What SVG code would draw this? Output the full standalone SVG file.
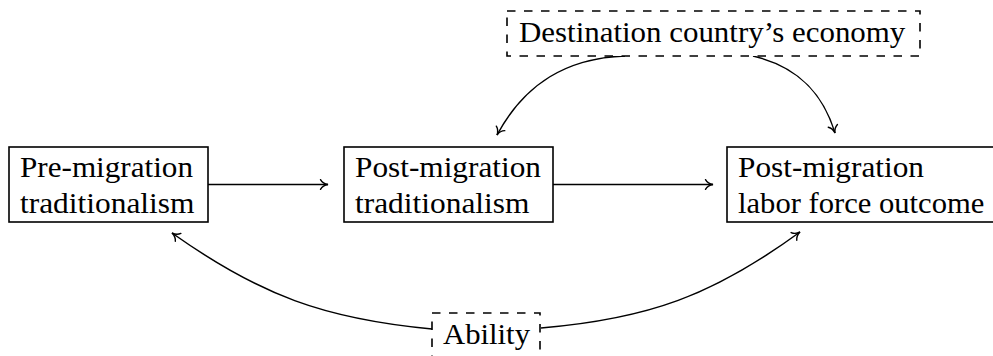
<svg xmlns="http://www.w3.org/2000/svg" width="993" height="356" viewBox="0 0 993 356">
  <defs>
    <marker id="arr" markerUnits="userSpaceOnUse" markerWidth="20" markerHeight="20" refX="0" refY="0" orient="auto" overflow="visible">
      <path d="M -7.5 -4.8 C -5.8 -1.9 -2.4 -0.4 0 0 C -2.4 0.4 -5.8 1.9 -7.5 4.8" fill="none" stroke="#000" stroke-width="1.4" stroke-linecap="round"/>
    </marker>
    <style>
      .box { fill: #fff; stroke: #000; stroke-width: 1.6; }
      .dash { fill: #fff; stroke: #000; stroke-width: 1.6; stroke-dasharray: 8.5 8.5; }
      .lbl { font-size: 28.5px; fill: #000; }
      .edge { fill: none; stroke: #000; stroke-width: 1.5; marker-end: url(#arr); }
    </style>
  </defs>
  <rect width="993" height="356" fill="#fff"/>

  <g id="connectors">
    <path class="edge" d="M 208 184.5 L 328 184.5"/>
    <path class="edge" d="M 553 184.5 L 713 184.5"/>
    <path class="edge" d="M 625 56 C 566.5 58 524.7 83.5 497 135"/>
    <path class="edge" d="M 753 56 C 795.8 66 822.3 90.9 835 133"/>
    <path class="edge" d="M 432 329 C 324.5 319 260 295.4 172 233"/>
    <path class="edge" d="M 541 328 C 648.5 319 713 295.4 800 232"/>
  </g>

  <g font-family="Liberation Serif, DejaVu Serif, serif">
  <g id="pre-migration">
    <rect class="box" x="9" y="147" width="199" height="75"/>
    <text class="lbl" x="20" y="177" textLength="173" lengthAdjust="spacingAndGlyphs">Pre-migration</text>
    <text class="lbl" x="20" y="213" textLength="174.4" lengthAdjust="spacingAndGlyphs">traditionalism</text>
  </g>

  <g id="post-migration">
    <rect class="box" x="344" y="147" width="209" height="75"/>
    <text class="lbl" x="355" y="177" textLength="186" lengthAdjust="spacingAndGlyphs">Post-migration</text>
    <text class="lbl" x="355" y="213" textLength="174.4" lengthAdjust="spacingAndGlyphs">traditionalism</text>
  </g>

  <g id="labor-outcome">
    <rect class="box" x="727" y="147" width="290" height="75"/>
    <text class="lbl" x="738" y="177" textLength="186" lengthAdjust="spacingAndGlyphs">Post-migration</text>
    <text class="lbl" x="738" y="213" textLength="246.4" lengthAdjust="spacingAndGlyphs">labor force outcome</text>
  </g>

  <g id="economy">
    <rect class="dash" x="507" y="11" width="413" height="45"/>
    <text class="lbl" x="519" y="41.5" textLength="386.3" lengthAdjust="spacingAndGlyphs">Destination country’s economy</text>
  </g>

  <g id="ability">
    <rect class="dash" x="432" y="313" width="108" height="45"/>
    <text class="lbl" x="443" y="343.5" textLength="87" lengthAdjust="spacingAndGlyphs">Ability</text>
  </g>
  </g>
</svg>
